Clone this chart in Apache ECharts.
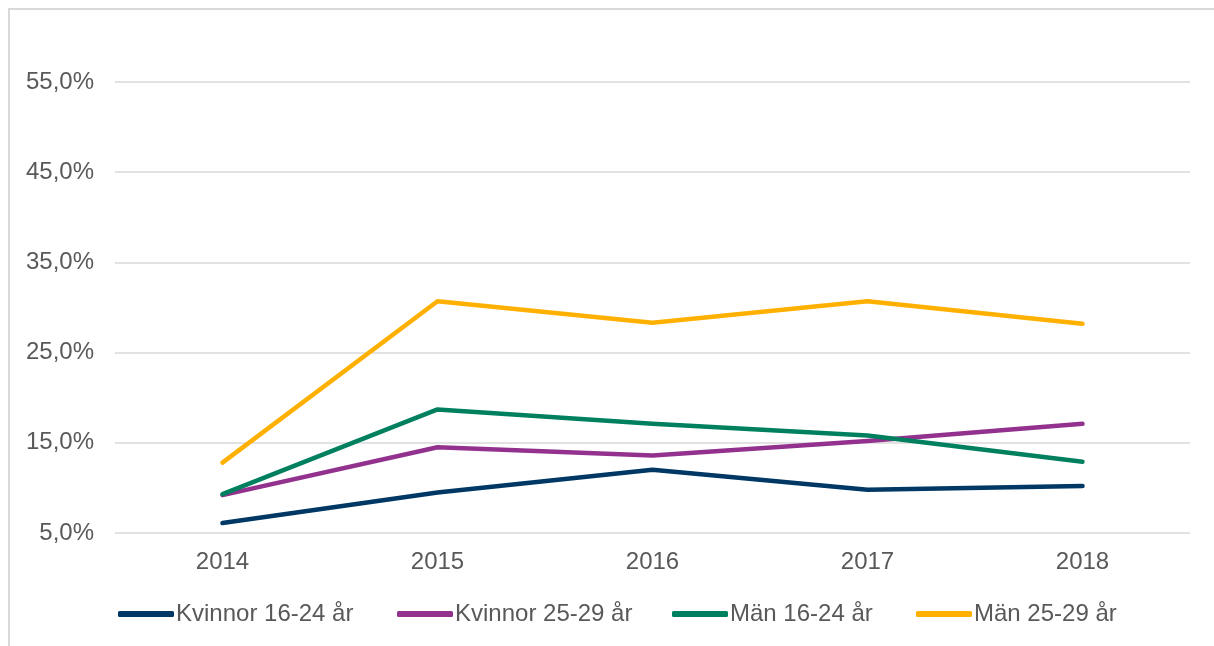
<!DOCTYPE html>
<html>
<head>
<meta charset="utf-8">
<script src="https://cdn.jsdelivr.net/npm/echarts@6/dist/echarts.min.js"></script>
<style>
  html, body { margin: 0; padding: 0; background: #fff; }
  #frame {
    position: absolute; left: 8px; top: 8px; width: 1210px; height: 650px;
    border: 2px solid #d9d9d9; box-sizing: border-box;
  }
  #chart { position: absolute; left: 0; top: 0; width: 1214px; height: 646px; }
</style>
</head>
<body>
<div id="frame"></div>
<div id="chart"></div>
<script>
var years = ['2014', '2015', '2016', '2017', '2018'];
var kvinnor1624 = [6.1, 9.5, 12.0, 9.8, 10.2];
var kvinnor2529 = [9.2, 14.5, 13.6, 15.2, 17.1];
var man1624 = [9.3, 18.7, 17.1, 15.8, 12.9];
var man2529 = [12.8, 30.7, 28.3, 30.7, 28.2];

var names = ['Kvinnor 16-24 år', 'Kvinnor 25-29 år', 'Män 16-24 år', 'Män 25-29 år'];
var colors = ['#003865', '#93328e', '#00805f', '#ffb000'];
var values = [kvinnor1624, kvinnor2529, man1624, man2529];
var legendLeft = [118, 397, 672, 916];

var font = 'Liberation Sans, Arial, sans-serif';

var series = values.map(function (v, i) {
  return {
    name: names[i],
    type: 'line',
    data: v,
    symbol: 'none',
    color: colors[i],
    lineStyle: { width: 4.5, color: colors[i], cap: 'round', join: 'round' }
  };
});

var legends = names.map(function (n, i) {
  return {
    data: [n],
    left: legendLeft[i],
    top: 602,
    padding: 0,
    icon: 'roundRect',
    itemWidth: 56,
    itemHeight: 6,
    itemGap: 0,
    textStyle: { fontFamily: font, fontSize: 24, color: '#595959', padding: [0, 0, 0, -3] }
  };
});

var option = {
  animation: false,
  grid: { left: 115, right: 24, top: 82, bottom: 113 },
  legend: legends,
  xAxis: {
    type: 'category',
    data: years,
    boundaryGap: true,
    axisLine: { show: false },
    axisTick: { show: false },
    axisLabel: { fontFamily: font, fontSize: 24, color: '#595959', margin: 17 }
  },
  yAxis: {
    type: 'value',
    min: 5,
    max: 55,
    interval: 10,
    axisLine: { show: false },
    axisTick: { show: false },
    splitLine: { lineStyle: { color: '#d9d9d9', width: 1.5 } },
    axisLabel: {
      fontFamily: font, fontSize: 24, color: '#595959', margin: 21,
      formatter: function (v) { return v.toFixed(1).replace('.', ',') + '%'; }
    }
  },
  series: series
};

echarts.init(document.getElementById('chart')).setOption(option);
</script>
</body>
</html>
